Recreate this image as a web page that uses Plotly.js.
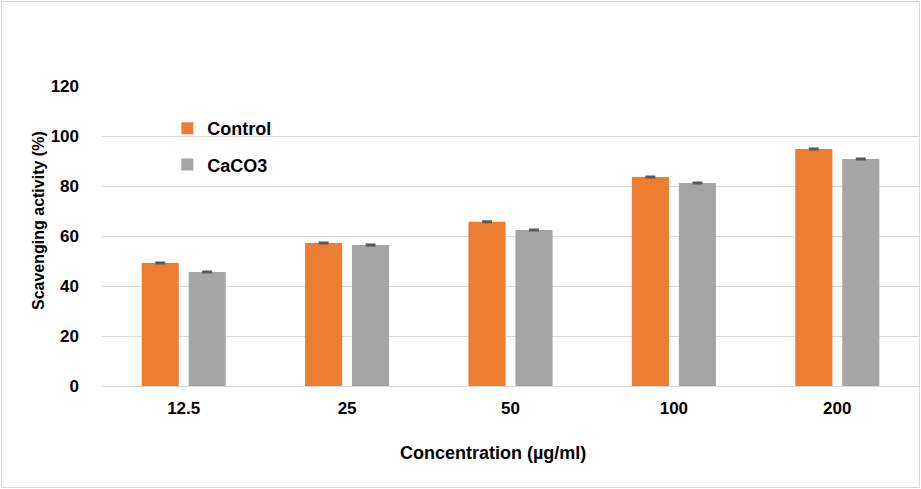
<!DOCTYPE html>
<html>
<head>
<meta charset="utf-8">
<script src="https://cdn.plot.ly/plotly-3.0.1.min.js"></script>
<style>
html,body{margin:0;padding:0;background:#fff;}
#wrap{position:relative;width:921px;height:489px;}
#chart{width:921px;height:489px;}
#frame{position:absolute;left:1px;top:1px;width:917px;height:485px;border:1px solid #d9d9d9;pointer-events:none;}
</style>
</head>
<body>
<div id="wrap"><div id="chart"></div><div id="frame"></div></div>
<script>
const categories = ["12.5", "25", "50", "100", "200"];
const controlValues = [49.2, 57.2, 65.7, 83.6, 94.8];
const controlErrors = [0.3, 0.3, 0.3, 0.3, 0.3];
const caco3Values = [45.6, 56.4, 62.4, 81.2, 90.8];
const caco3Errors = [0.3, 0.3, 0.3, 0.3, 0.3];
const yTicks = [0, 20, 40, 60, 80, 100, 120];

const fontFam = "Liberation Sans, Arial, sans-serif";

const traces = [
  {
    type: "bar", name: "Control", x: categories, y: controlValues,
    marker: {color: "#ED7D31"}, legendgroup: "a",
    error_y: {type: "data", array: controlErrors, visible: true, color: "#595959", thickness: 1.5, width: 5}
  },
  {
    type: "bar", name: "CaCO3", x: categories, y: caco3Values,
    marker: {color: "#A5A5A5"}, legendgroup: "b",
    error_y: {type: "data", array: caco3Errors, visible: true, color: "#595959", thickness: 1.5, width: 5}
  }
];

const layout = {
  width: 921, height: 489,
  margin: {l: 102, r: 2, t: 86, b: 103},
  paper_bgcolor: "#fff", plot_bgcolor: "#fff",
  barmode: "group", bargap: 0.425, bargroupgap: 0.21,
  font: {family: fontFam, color: "#000"},
  showlegend: true,
  legend: {
    x: 0.08, y: 0.92, xanchor: "left", yanchor: "top",
    font: {family: fontFam, size: 18, color: "#000", weight: "bold"},
    itemwidth: 30, tracegroupgap: 10, bgcolor: "rgba(0,0,0,0)"
  },
  xaxis: {
    type: "category", showgrid: false, zeroline: false,
    showline: false, ticks: "",
    tickfont: {family: fontFam, size: 17, color: "#000", weight: "bold"},
    ticklabelstandoff: 10
  },
  yaxis: {
    range: [0, 120], tickvals: yTicks, ticktext: yTicks.map(String),
    showgrid: true, gridcolor: "#d9d9d9", gridwidth: 1,
    zeroline: true, zerolinecolor: "#d9d9d9", zerolinewidth: 1,
    showline: false, ticks: "",
    tickfont: {family: fontFam, size: 17, color: "#000", weight: "bold"},
    ticklabelstandoff: 22
  },
  annotations: [
    {text: "Concentration (µg/ml)", xref: "paper", yref: "paper",
     x: (493 - 102) / 817, y: -(453 - 386) / 300, xanchor: "center", yanchor: "middle",
     showarrow: false, font: {family: fontFam, size: 18, color: "#000", weight: "bold"}},
    {text: "Scavenging activity (%)", xref: "paper", yref: "paper",
     x: -(102 - 38) / 817, y: (386 - 221) / 300, xanchor: "center", yanchor: "middle",
     textangle: -90, showarrow: false,
     font: {family: fontFam, size: 16, color: "#000", weight: "bold"}}
  ]
};

Plotly.newPlot("chart", traces, layout, {displayModeBar: false, staticPlot: true});
</script>
</body>
</html>
